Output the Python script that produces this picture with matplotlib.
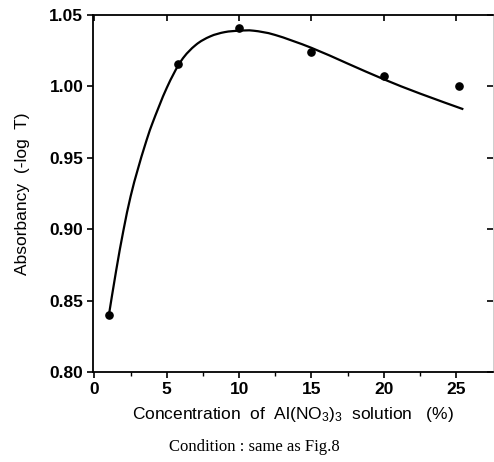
import matplotlib
matplotlib.use("Agg")
import matplotlib.pyplot as plt
from matplotlib.path import Path
from matplotlib.patches import PathPatch

# measured points
conc = [1.0, 5.8, 10.0, 15.0, 20.0, 25.2]
absorb = [0.840, 1.016, 1.041, 1.024, 1.007, 1.000]

# fitted curve knots
curve_x = [1.0, 1.5, 2.0, 2.5, 3.0, 3.5, 4.0, 5.0, 6.0, 7.0, 8.0, 9.0, 10.0, 11.0, 12.5, 15.0, 17.5, 20.0, 22.5, 25.5]
curve_y = [0.840, 0.871, 0.899, 0.923, 0.942, 0.959, 0.974, 0.999, 1.018, 1.029, 1.035, 1.038, 1.039, 1.039, 1.036, 1.027, 1.016, 1.005, 0.995, 0.984]

xticks = [0, 5, 10, 15, 20, 25]
xticklabels = ["0", "5", "10", "15", "20", "25"]
yticks = [0.80, 0.85, 0.90, 0.95, 1.00, 1.05]
yticklabels = ["0.80", "0.85", "0.90", "0.95", "1.00", "1.05"]

plt.rcParams['font.family'] = ['Liberation Sans', 'DejaVu Sans']
plt.rcParams['mathtext.fontset'] = 'custom'
plt.rcParams['mathtext.rm'] = 'Liberation Sans'
plt.rcParams['mathtext.default'] = 'regular'

fig = plt.figure(figsize=(4.94, 4.62), dpi=100)
ax = fig.add_axes([93/494, 90/462, 400/494, 357/462])

ax.set_xlim(-0.1, 27.55)
ax.set_ylim(0.80, 1.05)

# smooth curve through the knots: Catmull-Rom rendered as cubic Bezier path,
# built in display coordinates so the smoothing is isotropic on screen
fig.canvas.draw()
pts = ax.transData.transform(list(zip(curve_x, curve_y)))
verts = [tuple(pts[0])]
codes = [Path.MOVETO]
n = len(pts)
for i in range(n - 1):
    p0 = pts[i - 1] if i > 0 else pts[i]
    p1 = pts[i]
    p2 = pts[i + 1]
    p3 = pts[i + 2] if i + 2 < n else pts[i + 1]
    c1 = p1 + (p2 - p0) / 6.0
    c2 = p2 - (p3 - p1) / 6.0
    verts += [tuple(c1), tuple(c2), tuple(p2)]
    codes += [Path.CURVE4] * 3
inv = ax.transData.inverted()
verts_data = inv.transform(verts)
ax.add_patch(PathPatch(Path(verts_data, codes), facecolor='none', edgecolor='black',
                       lw=1.6, transform=ax.transData))

ax.plot(conc, absorb, 'o', color='black', markersize=5.2)

ax.set_xticks(xticks)
ax.set_xticklabels(xticklabels, fontsize=12.5, fontweight='bold')
ax.set_yticks(yticks)
ax.set_yticklabels(yticklabels, fontsize=12.5, fontweight='bold')
ax.set_xticks([2.5, 7.5, 12.5, 17.5, 22.5], minor=True)

ax.tick_params(axis='both', which='major', direction='out', length=4, width=1.2, pad=3)
ax.tick_params(axis='x', which='minor', direction='out', length=3, width=1.0, top=False)
ax.tick_params(axis='x', which='major', top=True)
ax.tick_params(axis='y', which='major', right=True)
# top and right ticks point inward
for t in ax.xaxis.get_major_ticks():
    t.tick2line.set_marker(3)  # TICKDOWN
    t.tick2line.set_markersize(4)
for t in ax.yaxis.get_major_ticks():
    t.tick2line.set_marker(0)  # TICKLEFT
    t.tick2line.set_markersize(4)

for s in ['left', 'bottom', 'top']:
    ax.spines[s].set_linewidth(1.3)
ax.spines['right'].set_linewidth(0.5)
ax.spines['right'].set_color('#bbbbbb')

ax.set_xlabel("Concentration  of  Al(NO$_3$)$_3$  solution   (%)", fontsize=12.5, labelpad=6)
ax.set_ylabel("Absorbancy  (-log  T)", fontsize=12.5, labelpad=14)

fig.text(0.515, 0.032, "Condition : same as Fig.8", family='Liberation Serif',
         fontsize=12, ha='center', va='center')

fig.savefig("out.png", dpi=100)
